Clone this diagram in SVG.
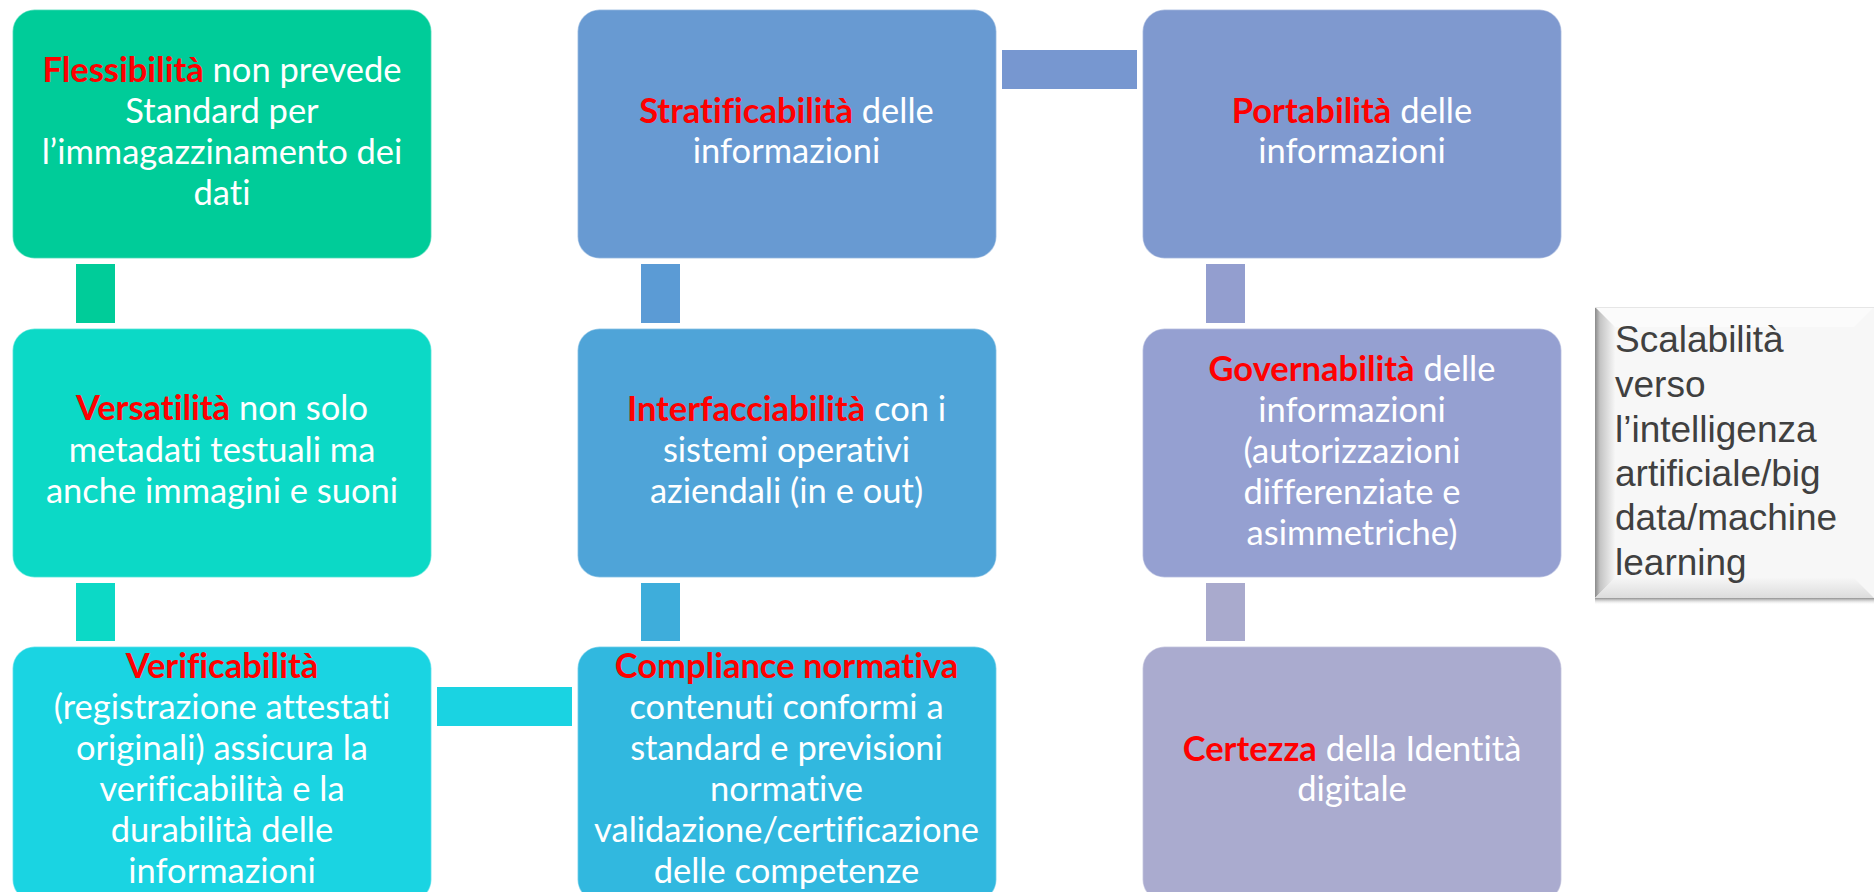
<svg xmlns="http://www.w3.org/2000/svg" width="1874" height="892" viewBox="0 0 1874 892">
<defs>
<style>
.box{stroke:#ffffff;stroke-opacity:0.45;stroke-width:1.5}
.t{font-family:Lato,"Open Sans","Liberation Sans",sans-serif;font-size:34.5px;fill:#ffffff;text-anchor:middle;font-variant-ligatures:none;font-feature-settings:"liga" 0,"dlig" 0}
.r{fill:#ff0000;font-weight:bold}
.s{font-family:"Liberation Sans",Arial,sans-serif;font-size:37px;fill:#404040}
</style>
<linearGradient id="bevL" x1="0" y1="0" x2="1" y2="0">
<stop offset="0" stop-color="#8a8a8a"/>
<stop offset="0.25" stop-color="#c4c4c4"/>
<stop offset="1" stop-color="#f6f6f6"/>
</linearGradient>
<linearGradient id="bevB" x1="0" y1="0" x2="0" y2="1">
<stop offset="0" stop-color="#f6f6f6"/>
<stop offset="1" stop-color="#dcdcdc"/>
</linearGradient>
<linearGradient id="shadow" x1="0" y1="0" x2="0" y2="1">
<stop offset="0" stop-color="#8f8f8f"/>
<stop offset="1" stop-color="#ffffff" stop-opacity="0"/>
</linearGradient>
</defs>
<rect width="1874" height="892" fill="#ffffff"/>
<g id="connectors">
<rect x="76" y="264" width="39" height="59" fill="#00cc99"/>
<rect x="76" y="583" width="39" height="58" fill="#0cd9c6"/>
<rect x="437" y="687" width="135" height="39" fill="#1ad3e2"/>
<rect x="641" y="264" width="39" height="59" fill="#5b9bd5"/>
<rect x="641" y="583" width="39" height="58" fill="#3eaddb"/>
<rect x="1002" y="50" width="135" height="39" fill="#7797d0"/>
<rect x="1206" y="264" width="39" height="59" fill="#939ecf"/>
<rect x="1206" y="583" width="39" height="58" fill="#a9aacd"/>
</g>
<g id="n-flessibilita">
<rect class="box" x="12.5" y="9.5" width="419" height="249" rx="22" fill="#00cc99"/>
<text class="t" x="222" y="82"><tspan class="r">Flessibilità</tspan> non prevede</text>
<text class="t" x="222" y="123">Standard per</text>
<text class="t" x="222" y="164">l’immagazzinamento dei</text>
<text class="t" x="222" y="205">dati</text>
</g>
<g id="n-versatilita">
<rect class="box" x="12.5" y="328.5" width="419" height="249" rx="22" fill="#0cd9c6"/>
<text class="t" x="222" y="420"><tspan class="r">Versatilità</tspan> non solo</text>
<text class="t" x="222" y="462">metadati testuali ma</text>
<text class="t" x="222" y="503">anche immagini e suoni</text>
</g>
<g id="n-verificabilita">
<rect class="box" x="12.5" y="646.5" width="419" height="255" rx="22" fill="#1ad4e2"/>
<text class="t" x="222" y="678"><tspan class="r">Verificabilità</tspan></text>
<text class="t" x="222" y="719">(registrazione attestati</text>
<text class="t" x="222" y="760">originali) assicura la</text>
<text class="t" x="222" y="801">verificabilità e la</text>
<text class="t" x="222" y="842">durabilità delle</text>
<text class="t" x="222" y="883">informazioni</text>
</g>
<g id="n-stratificabilita">
<rect class="box" x="577.5" y="9.5" width="419" height="249" rx="22" fill="#689ad2"/>
<text class="t" x="786.5" y="123"><tspan class="r">Stratificabilità</tspan> delle</text>
<text class="t" x="786.5" y="163">informazioni</text>
</g>
<g id="n-interfacciabilita">
<rect class="box" x="577.5" y="328.5" width="419" height="249" rx="22" fill="#4fa4d8"/>
<text class="t" x="786.5" y="421"><tspan class="r">Interfacciabilità</tspan> con i</text>
<text class="t" x="786.5" y="462">sistemi operativi</text>
<text class="t" x="786.5" y="503">aziendali (in e out)</text>
</g>
<g id="n-compliance">
<rect class="box" x="577.5" y="646.5" width="419" height="255" rx="22" fill="#31b8df"/>
<text class="t" x="786.5" y="678"><tspan class="r">Compliance normativa</tspan></text>
<text class="t" x="786.5" y="719">contenuti conformi a</text>
<text class="t" x="786.5" y="760">standard e previsioni</text>
<text class="t" x="786.5" y="801">normative</text>
<text class="t" x="786.5" y="842">validazione/certificazione</text>
<text class="t" x="786.5" y="883">delle competenze</text>
</g>
<g id="n-portabilita">
<rect class="box" x="1142.5" y="9.5" width="419" height="249" rx="22" fill="#7f99cf"/>
<text class="t" x="1352" y="123"><tspan class="r">Portabilità</tspan> delle</text>
<text class="t" x="1352" y="163">informazioni</text>
</g>
<g id="n-governabilita">
<rect class="box" x="1142.5" y="328.5" width="419" height="249" rx="22" fill="#95a0d1"/>
<text class="t" x="1352" y="381"><tspan class="r">Governabilità</tspan> delle</text>
<text class="t" x="1352" y="422">informazioni</text>
<text class="t" x="1352" y="463">(autorizzazioni</text>
<text class="t" x="1352" y="504">differenziate e</text>
<text class="t" x="1352" y="545">asimmetriche)</text>
</g>
<g id="n-certezza">
<rect class="box" x="1142.5" y="646.5" width="419" height="255" rx="22" fill="#aaabcf"/>
<text class="t" x="1352" y="761"><tspan class="r">Certezza</tspan> della Identità</text>
<text class="t" x="1352" y="801">digitale</text>
</g>
<g id="n-scalabilita">
<rect x="1595" y="598" width="279" height="7" fill="url(#shadow)"/>
<rect x="1595" y="307" width="279" height="291" fill="#f7f7f7"/>
<polygon points="1595,307 1874,307 1854,327 1615,327" fill="#fbfbfb"/>
<polygon points="1595,307 1615,327 1615,578 1595,598" fill="url(#bevL)"/>
<polygon points="1595,598 1615,578 1854,578 1874,598" fill="url(#bevB)"/>
<line x1="1595" y1="307.5" x2="1874" y2="307.5" stroke="#e6e6e6" stroke-width="1"/>
<text class="s" x="1615" y="352">Scalabilità</text>
<text class="s" x="1615" y="397">verso</text>
<text class="s" x="1615" y="442">l’intelligenza</text>
<text class="s" x="1615" y="486">artificiale/big</text>
<text class="s" x="1615" y="530">data/machine</text>
<text class="s" x="1615" y="575">learning</text>
</g>
</svg>
